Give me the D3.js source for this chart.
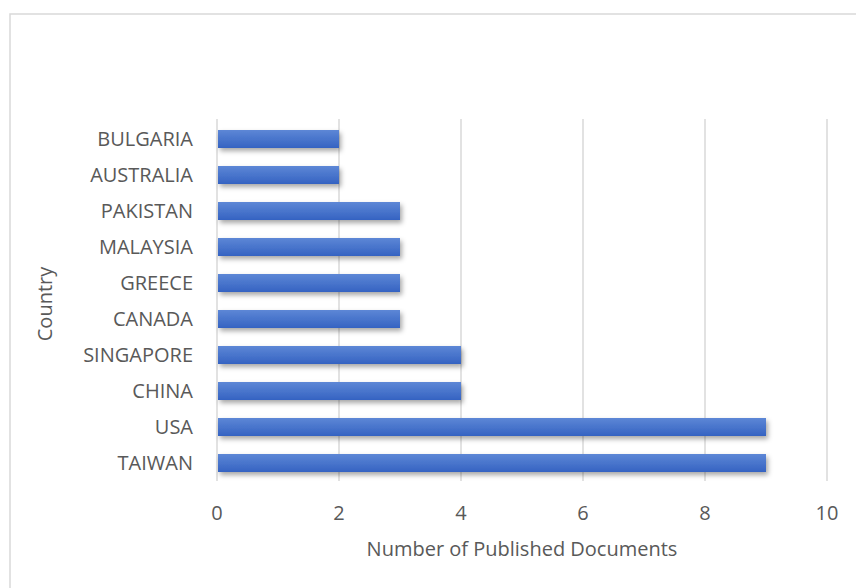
<!DOCTYPE html>
<html><head><meta charset="utf-8">
<script src="https://cdn.jsdelivr.net/npm/d3@7"></script>
<style>body{margin:0;background:#fff}svg{display:block}</style>
</head><body>
<script>
const categories = ["BULGARIA","AUSTRALIA","PAKISTAN","MALAYSIA","GREECE","CANADA","SINGAPORE","CHINA","USA","TAIWAN"];
const values = [2,2,3,3,3,3,4,4,9,9];
const xTicks = [0,2,4,6,8,10];
const xTitle = "Number of Published Documents";
const yTitle = "Country";

const W=856,H=588;
const svg=d3.select("body").append("svg").attr("width",W).attr("height",H);
const font="'Open Sans', sans-serif";
svg.append("rect").attr("x",10).attr("y",14).attr("width",W).attr("height",H).attr("fill","#fff").attr("stroke","#d9d9d9").attr("stroke-width",1.5);

const defs=svg.append("defs");
const g1=defs.append("linearGradient").attr("id","bg").attr("x1",0).attr("y1",0).attr("x2",0).attr("y2",1);
g1.append("stop").attr("offset","0%").attr("stop-color","#5d87d6");
g1.append("stop").attr("offset","100%").attr("stop-color","#3563c2");
const f=defs.append("filter").attr("id","sh").attr("x","-10%").attr("y","-30%").attr("width","130%").attr("height","190%");
f.append("feDropShadow").attr("dx",2).attr("dy",3).attr("stdDeviation",2.5).attr("flood-color","#000").attr("flood-opacity",0.35);

const x=d3.scaleLinear().domain([0,10]).range([217,827]);
const y=d3.scaleBand().domain(categories).range([121,481]).paddingInner(0.5).paddingOuter(0.25);

svg.append("g").selectAll("line").data(xTicks).join("line")
 .attr("x1",d=>x(d)).attr("x2",d=>x(d)).attr("y1",119).attr("y2",481)
 .attr("stroke","#d9d9d9").attr("stroke-width",1.5);

svg.append("g").selectAll("rect").data(values).join("rect")
 .attr("x",x(0)+1).attr("y",(d,i)=>y(categories[i]))
 .attr("width",d=>x(d)-x(0)-1).attr("height",y.bandwidth())
 .attr("fill","url(#bg)").attr("filter","url(#sh)");

svg.append("g").selectAll("text").data(categories).join("text")
 .attr("x",193).attr("y",d=>y(d)+y.bandwidth()/2).attr("dy","0.36em")
 .attr("text-anchor","end").attr("font-family",font).attr("font-size",20).attr("fill","#595959").text(d=>d);

svg.append("g").selectAll("text").data(xTicks).join("text")
 .attr("x",d=>x(d)).attr("y",520).attr("text-anchor","middle")
 .attr("font-family",font).attr("font-size",20).attr("fill","#595959").text(d=>d);

svg.append("text").attr("x",522).attr("y",556).attr("text-anchor","middle")
 .attr("font-family",font).attr("font-size",20).attr("fill","#595959").text(xTitle);
svg.append("text").attr("transform","translate(52,304) rotate(-90)").attr("text-anchor","middle")
 .attr("font-family",font).attr("font-size",20).attr("fill","#595959").text(yTitle);
</script>
</body></html>
